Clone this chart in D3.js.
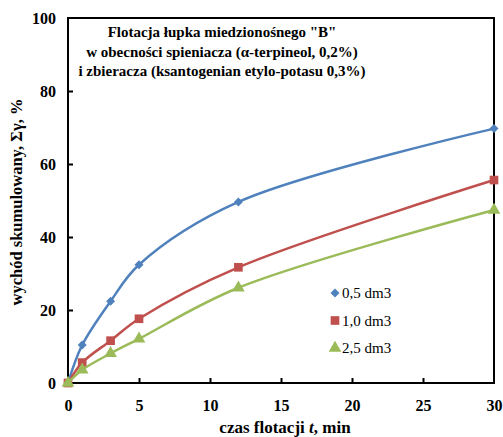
<!DOCTYPE html>
<html>
<head>
<meta charset="utf-8">
<script src="https://cdn.jsdelivr.net/npm/d3@7"></script>
<style>
  body { margin: 0; background: #fff; }
  svg { display: block; }
  svg text { font-family: "Liberation Serif", "Times New Roman", "DejaVu Serif", serif; }
</style>
</head>
<body>
<div id="chart"></div>
<script>
// flotation time, min
var times = [0, 1, 3, 5, 12, 30];
var seriesNames = ["0,5 dm3", "1,0 dm3", "2,5 dm3"];
var yield05 = [0, 10.4, 22.4, 32.4, 49.6, 69.7];
var yield10 = [0, 5.6, 11.6, 17.6, 31.7, 55.6];
var yield25 = [0, 3.6, 8.1, 12.1, 26.1, 47.4];
var xTicks = [0, 5, 10, 15, 20, 25, 30];
var yTicks = [0, 20, 40, 60, 80, 100];
var titleLines = [
  'Flotacja łupka miedzionośnego "B"',
  "w obecności spieniacza (α-terpineol, 0,2%)",
  "i zbieracza (ksantogenian etylo-potasu 0,3%)"
];

var width = 503, height = 437;
var margin = {top: 18, right: 9, bottom: 54, left: 68};
var colors = ["#4f81bd", "#c0504d", "#9bbb59"];
var symbols = [d3.symbolSquare, d3.symbolSquare, d3.symbolTriangle];
var symSizes = [40, 75, 70];
var symRot = [45, 0, 0];

var svg = d3.select("#chart").append("svg")
    .attr("width", width).attr("height", height);

var x = d3.scaleLinear().domain([0, 30]).range([margin.left, width - margin.right]);
var y = d3.scaleLinear().domain([0, 100]).range([height - margin.bottom, margin.top]);

// frame
svg.append("rect")
  .attr("x", x(0)).attr("y", y(100))
  .attr("width", x(30) - x(0)).attr("height", y(0) - y(100))
  .attr("fill", "none").attr("stroke", "#000").attr("stroke-width", 2);

// axes with inner ticks
var xAxis = svg.append("g").attr("transform", "translate(0," + y(0) + ")")
  .call(d3.axisBottom(x).tickValues(xTicks).tickSize(-5).tickPadding(17).tickFormat(d3.format("d")));
var yAxis = svg.append("g").attr("transform", "translate(" + x(0) + ",0)")
  .call(d3.axisLeft(y).tickValues(yTicks).tickSize(-5).tickPadding(12).tickFormat(d3.format("d")));

[xAxis, yAxis].forEach(function(a) {
  a.attr("font-family", null);
  a.select(".domain").remove();
  a.selectAll(".tick line").attr("stroke", "#000").attr("stroke-width", 2);
  a.selectAll("text").attr("font-size", "16px")
    .attr("font-weight", "bold").attr("fill", "#000");
});
xAxis.selectAll(".tick line").filter(function(d){ return d === 0 || d === 30; }).remove();
yAxis.selectAll(".tick line").filter(function(d){ return d === 0 || d === 100; }).remove();

// title
svg.append("text")
  .attr("font-size", "15px").attr("font-weight", "bold")
  .attr("text-anchor", "middle")
  .selectAll("tspan").data(titleLines).enter().append("tspan")
  .attr("x", 222).attr("y", function(d, i){ return 37 + i * 19.5; })
  .text(function(d){ return d; });

// axis titles
var xl = svg.append("text")
  .attr("x", 285).attr("y", 433)
  .attr("text-anchor", "middle")
  .attr("font-size", "17px").attr("font-weight", "bold");
xl.append("tspan").text("czas flotacji ");
xl.append("tspan").attr("font-style", "italic").text("t");
xl.append("tspan").text(", min");

svg.append("text")
  .attr("transform", "translate(22,202) rotate(-90)")
  .attr("text-anchor", "middle")
  .attr("font-size", "16.5px").attr("font-weight", "bold")
  .text("wychód skumulowany, Σγ, %");

// series
var allSeries = [yield05, yield10, yield25];
var line = d3.line()
  .x(function(d){ return x(d[0]); })
  .y(function(d){ return y(d[1]); })
  .curve(d3.curveCatmullRom.alpha(0.5));

allSeries.forEach(function(vals, s) {
  var pts = times.map(function(t, i){ return [t, vals[i]]; });
  svg.append("path").datum(pts)
    .attr("d", line)
    .attr("fill", "none")
    .attr("stroke", colors[s])
    .attr("stroke-width", 2.5);
  svg.selectAll(".m" + s).data(pts).enter().append("path")
    .attr("class", "m" + s)
    .attr("transform", function(d){
      return "translate(" + x(d[0]) + "," + y(d[1]) + ") rotate(" + symRot[s] + ")";
    })
    .attr("d", d3.symbol().type(symbols[s]).size(symSizes[s]))
    .attr("fill", colors[s]);
});

// legend
var legend = svg.append("g");
seriesNames.forEach(function(name, i) {
  var ly = 293 + i * 27.5;
  legend.append("path")
    .attr("transform", "translate(335," + ly + ") rotate(" + symRot[i] + ")")
    .attr("d", d3.symbol().type(symbols[i]).size(symSizes[i]))
    .attr("fill", colors[i]);
  legend.append("text")
    .attr("x", 342).attr("y", ly + 5)
    .attr("font-size", "15px")
    .text(name);
});
</script>
</body>
</html>
